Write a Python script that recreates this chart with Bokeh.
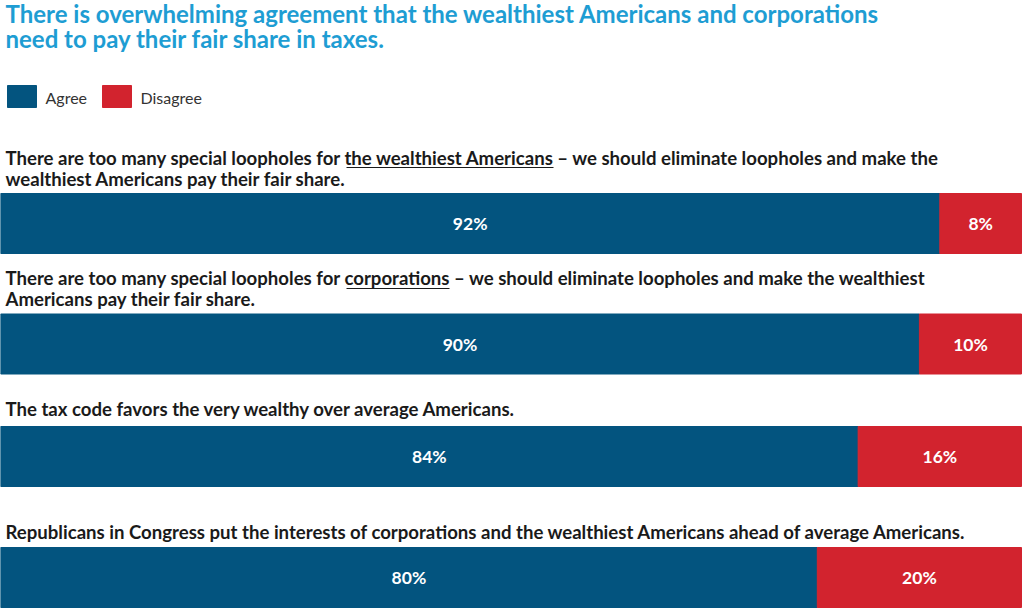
from bokeh.plotting import figure
from bokeh.models import Range1d, Label, ColumnDataSource
from bokeh.embed import file_html
from bokeh.resources import INLINE

# ---- data ----
title_lines = ["There is overwhelming agreement that the wealthiest Americans and corporations",
               "need to pay their fair share in taxes."]
series = ["Agree", "Disagree"]
questions = [
    ["There are too many special loopholes for the wealthiest Americans \u2013 we should eliminate loopholes and make the",
     "wealthiest Americans pay their fair share."],
    ["There are too many special loopholes for corporations \u2013 we should eliminate loopholes and make the wealthiest",
     "Americans pay their fair share."],
    ["The tax code favors the very wealthy over average Americans."],
    ["Republicans in Congress put the interests of corporations and the wealthiest Americans ahead of average Americans."],
]
agree = [92, 90, 84, 80]
disagree = [8, 10, 16, 20]

# ---- layout (pixels from top) ----
W, H = 1024, 609
FONT = "Lato"
BLUE = "#03547f"
RED = "#d2232e"
bar_y = [223, 343.5, 456, 577]
bar_h = 60
q_y = [[157, 178], [277, 298], [408], [531]]

p = figure(width=W, height=H, output_backend="svg", toolbar_location=None,
           x_range=Range1d(0, 100 * W / 1021), y_range=Range1d(H, 0),
           min_border=0, outline_line_color=None)
p.axis.visible = False
p.grid.visible = False
p.background_fill_color = "white"

src = ColumnDataSource(dict(
    y=bar_y, agree=agree, disagree=disagree,
    total=[a + d for a, d in zip(agree, disagree)],
    agree_mid=[a / 2 for a in agree],
    dis_mid=[a + d / 2 for a, d in zip(agree, disagree)],
    agree_lbl=[f"{a}%" for a in agree],
    dis_lbl=[f"{d}%" for d in disagree],
))
p.hbar(y="y", left=0, right="agree", height=bar_h, color=BLUE, source=src)
p.hbar(y="y", left="agree", right="total", height=bar_h, color=RED, source=src)
for xcol, tcol in [("agree_mid", "agree_lbl"), ("dis_mid", "dis_lbl")]:
    p.text(x=xcol, y="y", text=tcol, source=src, text_color="white",
           text_font={"value": FONT}, text_font_size="17.5px", text_align="center",
           text_baseline="middle", text_font_style="bold")

# title
for i, line in enumerate(title_lines):
    p.add_layout(Label(x=5, y=H - (13 + i * 25), x_units="screen", y_units="screen",
                       text=line, text_font=FONT, text_font_size="24px",
                       text_font_style="bold", text_color="#1e9dd3",
                       text_baseline="middle"))

# legend
leg_x = [7, 102]
for sx, name, col in zip(leg_x, series, [BLUE, RED]):
    p.quad(left=[sx * 100 / 1021], right=[(sx + 29) * 100 / 1021], top=[85], bottom=[107],
           color=col)
    p.add_layout(Label(x=sx + 38, y=H - 97, x_units="screen", y_units="screen",
                       text=name, text_font=FONT, text_font_size="16px",
                       text_color="#333333", text_baseline="middle"))

# questions
for lines, ys in zip(questions, q_y):
    for line, yy in zip(lines, ys):
        p.add_layout(Label(x=5, y=H - yy, x_units="screen", y_units="screen",
                           text=line, text_font=FONT, text_font_size="18.6px",
                           text_font_style="bold", text_color="#1a1a1a",
                           text_baseline="middle"))

# underlines
ul = [(346, 553, 167), (346, 449, 288)]
for x0, x1, yy in ul:
    p.segment(x0=[x0 * 100 / 1021], x1=[x1 * 100 / 1021], y0=[yy], y1=[yy],
              line_color="#1a1a1a", line_width=1.2)

open("out.html", "w").write(file_html(p, INLINE))
